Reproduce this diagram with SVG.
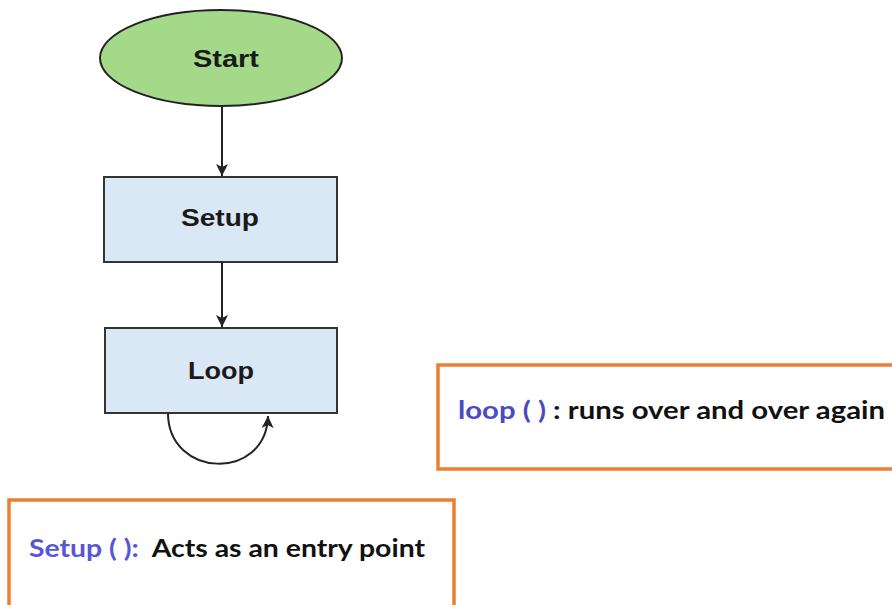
<svg xmlns="http://www.w3.org/2000/svg" width="892" height="605" viewBox="0 0 892 605">
<defs>
<marker id="ah" markerWidth="12" markerHeight="12" refX="12" refY="6" orient="auto" markerUnits="userSpaceOnUse">
<path d="M0,0 L12,6 L0,12 L3,6 Z" fill="#222"/>
</marker>
<style>
.node-label{font-family:"Liberation Sans",Arial,sans-serif;font-weight:bold;font-size:24px;fill:#1a1a1a;text-anchor:middle;dominant-baseline:central}
.box{fill:#dae8f5;stroke:#333;stroke-width:2}
.note{fill:#fff;stroke:#ed7d31;stroke-width:3.5}
.note-text{font-family:Lato,"Open Sans",sans-serif;font-weight:bold;font-size:25px}
.conn{fill:none;stroke:#222;stroke-width:2}
</style>
</defs>
<rect width="892" height="605" fill="#fff"/>
<g id="start">
<ellipse cx="221" cy="58" rx="121" ry="48" fill="#a4d98a" stroke="#222" stroke-width="2"/>
<text class="node-label" x="226" y="58" textLength="66" lengthAdjust="spacingAndGlyphs">Start</text>
</g>
<g id="setup">
<rect class="box" x="104" y="177" width="233" height="85"/>
<text class="node-label" x="220" y="217" textLength="78" lengthAdjust="spacingAndGlyphs">Setup</text>
</g>
<g id="loop">
<rect class="box" x="105" y="328" width="232" height="85"/>
<text class="node-label" x="221" y="370" textLength="66" lengthAdjust="spacingAndGlyphs">Loop</text>
</g>
<g id="connectors">
<line class="conn" x1="222" y1="107" x2="222" y2="176" marker-end="url(#ah)"/>
<line class="conn" x1="222" y1="262" x2="222" y2="327" marker-end="url(#ah)"/>
<path class="conn" d="M168,413 C168,478 266,482 268,416" marker-end="url(#ah)"/>
</g>
<g id="loop-note">
<rect class="note" x="438" y="365" width="470" height="104"/>
<text class="note-text" x="458" y="419" textLength="427" lengthAdjust="spacingAndGlyphs"><tspan fill="#4b4bbf">loop ( )</tspan><tspan fill="#111"> : runs over and over again</tspan></text>
</g>
<g id="setup-note">
<rect class="note" x="9" y="500" width="445" height="115"/>
<text class="note-text" x="29" y="557" textLength="396" lengthAdjust="spacingAndGlyphs" xml:space="preserve"><tspan fill="#5656d6">Setup ( ):</tspan><tspan fill="#111">  Acts as an entry point</tspan></text>
</g>
</svg>
